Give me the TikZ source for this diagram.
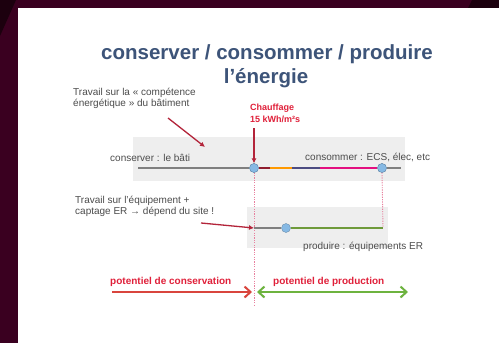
\documentclass[tikz,border=0pt]{standalone}
\usepackage{fontspec}
\setmainfont{Liberation Sans}
\usetikzlibrary{arrows.meta, positioning}

\definecolor{maroon}{HTML}{3A0020}
\definecolor{darkmaroon}{HTML}{1C000E}
\definecolor{titleblue}{HTML}{3D5479}
\definecolor{bandgray}{HTML}{EEEEEE}
\definecolor{linegray}{HTML}{7F7F7F}
\definecolor{arrowred}{HTML}{B3243A}
\definecolor{labelred}{HTML}{E0203A}
\definecolor{dotblue}{HTML}{86B9E4}
\definecolor{dotpink}{HTML}{E8809E}
\definecolor{ergreen}{HTML}{6E9A3A}
\definecolor{potred}{HTML}{D9453D}
\definecolor{potgreen}{HTML}{6DB33F}

\tikzset{
  title/.style={font=\bfseries\fontsize{20.5}{23}\selectfont, text=titleblue, inner sep=0pt},
  note/.style={font=\fontsize{10}{11}\selectfont, text=black!70, align=left, inner sep=0pt},
  redlabel/.style={font=\bfseries\fontsize{9}{12}\selectfont, text=labelred, align=left, inner sep=0pt},
  potlabel/.style={font=\bfseries\fontsize{10}{12}\selectfont, text=labelred, inner sep=0pt},
  pointer/.style={arrowred, line width=1.3pt, -{Latex[length=5pt,width=5pt]}},
  dot/.style={circle, fill=dotblue, draw=dotblue!70!black, line width=0.3pt, minimum size=9pt, inner sep=0pt},
  vdots/.style={dotpink, line width=0.9pt, dash pattern=on 1.2pt off 1.2pt},
  barb/.tip={Straight Barb[length=6pt,width=11pt,line width=2pt]},
  potential/.style={line width=2.6pt, -barb}
}

\begin{document}
\begin{tikzpicture}[x=1pt, y=-1pt]
		%frame of the slide
		\useasboundingbox (0,0) rectangle (499,343);
		\fill [maroon] (0,0) rectangle (499,343);
		\fill [darkmaroon] (0,0) -- (16,0) -- (0,36) -- cycle;
		\fill [darkmaroon] (472,0) -- (499,0) -- (499,8) -- (468,8) -- cycle;
		\fill [white] (18,8) rectangle (499,343);
		
		%title
		\node [title] (title1) at (267,54) {conserver / consommer / produire};
		\node [title] (title2) at (266,78) {l’énergie};
		
		%gray bands
		\fill [bandgray] (133,137) rectangle (405,181);
		\fill [bandgray] (247,207) rectangle (388,248);
		
		%definition of main points
		\coordinate (bati start) at (138,168);
		\coordinate (bati end) at (401,168);
		\node [dot] (heat) at (254,168) {};
		\node [dot] (conso end) at (382,168) {};
		\coordinate (er start) at (254,228);
		\coordinate (er end) at (383,228);
		\coordinate (axis bottom) at (254,306);
		
		%first line : conserver / consommer
		\draw [linegray, line width=1.6pt] (bati start) -- (heat);
		\draw [line width=1.6pt, arrowred!80!black] (heat) -- ++(16,0) coordinate (s1);
		\draw [line width=1.6pt, orange!80!yellow] (s1) -- ++(22,0) coordinate (s2);
		\draw [line width=1.6pt, black!70!blue!70] (s2) -- ++(28,0) coordinate (s3);
		\draw [line width=1.6pt, magenta!80!purple] (s3) -- (conso end);
		\draw [linegray, line width=1.6pt] (conso end) -- (bati end);
		\node [dot] at (heat) {};
		\node [dot] at (conso end) {};
		
		\node [note, anchor=west] (conserver) at (110,158) {conserver : le bâti};
		\node [note, anchor=west] (consommer) at (305,157) {consommer : ECS, élec, etc};
		
		%dotted verticals
		\draw [vdots] (heat.south) -- (axis bottom);
		\draw [vdots] (conso end.south) -- (er end);
		
		%second line : produire
		\node [dot] (er dot) at (286,228) {};
		\draw [linegray, line width=1.6pt] (er start) -- (er dot.west);
		\draw [ergreen, line width=1.6pt] (er dot.east) -- (er end);
		\node [note, anchor=west] (produire) at (303,247) {produire : équipements ER};
		
		%heating value
		\node [redlabel, anchor=north west] (chauffage) at (250,104) {Chauffage\\15 kWh/m²s};
		\draw [pointer] (chauffage.south west -| heat) ++(0,5) coordinate (heat top) -- (heat.north);
		
		%notes on the left
		\node [note, anchor=north west] (travail bati) at (73,88) {Travail sur la « compétence\\énergétique » du bâtiment};
		\coordinate (bati tail) at (168,118);
		\draw [pointer] (bati tail) -- (205,147) coordinate (bati head);
		
		\node [note, anchor=north west] (travail er) at (75,196) {Travail sur l’équipement +\\captage ER → dépend du site !};
		\coordinate (er tail) at (201,223);
		\draw [pointer] (er tail) -- (er start);
		
		%potentials
		\coordinate (cons left) at (112,292);
		\coordinate (prod right) at (408,292);
		\coordinate (mid left) at (252,292);
		\coordinate (mid right) at (257,292);
		\draw [potential, potred] (cons left) -- (mid left);
		\draw [potential, potgreen, barb-barb] (mid right) -- (prod right);
		\node [potlabel, anchor=south west] (cons label) at (110,287) {potentiel de conservation};
		\node [potlabel, anchor=south west] (prod label) at (273,287) {potentiel de production};
	\end{tikzpicture}
\end{document}
